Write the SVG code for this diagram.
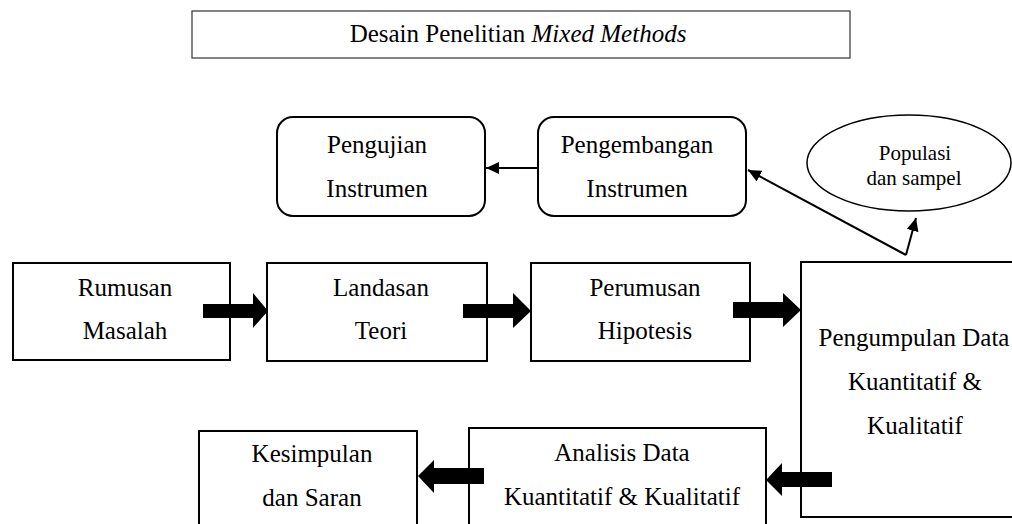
<svg xmlns="http://www.w3.org/2000/svg" width="1012" height="524" viewBox="0 0 1012 524">
<style>
.box{fill:#fff;stroke:#000;stroke-width:2}
.t{font-family:"Liberation Serif","Times New Roman",serif;font-size:25px;fill:#000;text-anchor:middle}
.s{font-size:21px}
.blk{fill:#000;stroke:none}
.ln{stroke:#000;stroke-width:2;fill:none}
</style>
<defs>
<marker id="ah" markerWidth="14" markerHeight="12" refX="13" refY="6" orient="auto" markerUnits="userSpaceOnUse">
<path d="M0,0 L13,6 L0,12 Z" fill="#000"/>
</marker>
</defs>
<rect width="1012" height="524" fill="#fff"/>
<g id="title">
<rect x="192" y="11" width="658" height="47" fill="#fff" stroke="#333" stroke-width="1.2"/>
<text class="t" x="518" y="42">Desain Penelitian <tspan font-style="italic">Mixed Methods</tspan></text>
</g>
<g id="pengujian">
<rect class="box" x="277" y="117" width="208" height="99" rx="16"/>
<text class="t" x="377" y="153">Pengujian</text>
<text class="t" x="377" y="197">Instrumen</text>
</g>
<g id="pengembangan">
<rect class="box" x="538" y="117" width="208" height="99" rx="16"/>
<text class="t" x="637" y="153">Pengembangan</text>
<text class="t" x="637" y="197">Instrumen</text>
</g>
<g id="populasi">
<ellipse cx="909" cy="163" rx="102" ry="48" fill="#fff" stroke="#000" stroke-width="1.5"/>
<text class="t s" x="915" y="160">Populasi</text>
<text class="t s" x="914" y="185">dan sampel</text>
</g>
<g id="rumusan">
<rect class="box" x="13" y="263" width="217" height="97"/>
<text class="t" x="125" y="296">Rumusan</text>
<text class="t" x="125" y="339">Masalah</text>
</g>
<g id="landasan">
<rect class="box" x="267" y="263" width="220" height="98"/>
<text class="t" x="381" y="296">Landasan</text>
<text class="t" x="381" y="339">Teori</text>
</g>
<g id="perumusan">
<rect class="box" x="531" y="263" width="219" height="98"/>
<text class="t" x="645" y="296">Perumusan</text>
<text class="t" x="645" y="339">Hipotesis</text>
</g>
<g id="pengumpulan">
<rect class="box" x="801" y="262" width="215" height="255"/>
<text class="t" x="914" y="346">Pengumpulan Data</text>
<text class="t" x="915" y="390">Kuantitatif &amp;</text>
<text class="t" x="915" y="434">Kualitatif</text>
</g>
<g id="analisis">
<rect class="box" x="469" y="428" width="297" height="110"/>
<text class="t" x="622" y="461">Analisis Data</text>
<text class="t" x="622" y="505">Kuantitatif &amp; Kualitatif</text>
</g>
<g id="kesimpulan">
<rect class="box" x="199" y="431" width="218" height="110"/>
<text class="t" x="312" y="462">Kesimpulan</text>
<text class="t" x="312" y="506">dan Saran</text>
</g>
<g id="connectors">
<line class="ln" x1="538" y1="168" x2="486" y2="168" marker-end="url(#ah)"/>
<line class="ln" x1="906" y1="255" x2="748" y2="170" marker-end="url(#ah)"/>
<line class="ln" x1="906" y1="255" x2="916" y2="218" marker-end="url(#ah)"/>
<polygon class="blk" points="203,304 253,304 253,293 268,311 253,328 253,318 203,318"/>
<polygon class="blk" points="463,304 513,304 513,293 531,311 513,328 513,318 463,318"/>
<polygon class="blk" points="733,302 783,302 783,293 801,310 783,327 783,318 733,318"/>
<polygon class="blk" points="832,472 782,472 782,463 766,480 782,496 782,487 832,487"/>
<polygon class="blk" points="484,468 434,468 434,460 418,476 434,493 434,484 484,484"/>
</g>
</svg>
